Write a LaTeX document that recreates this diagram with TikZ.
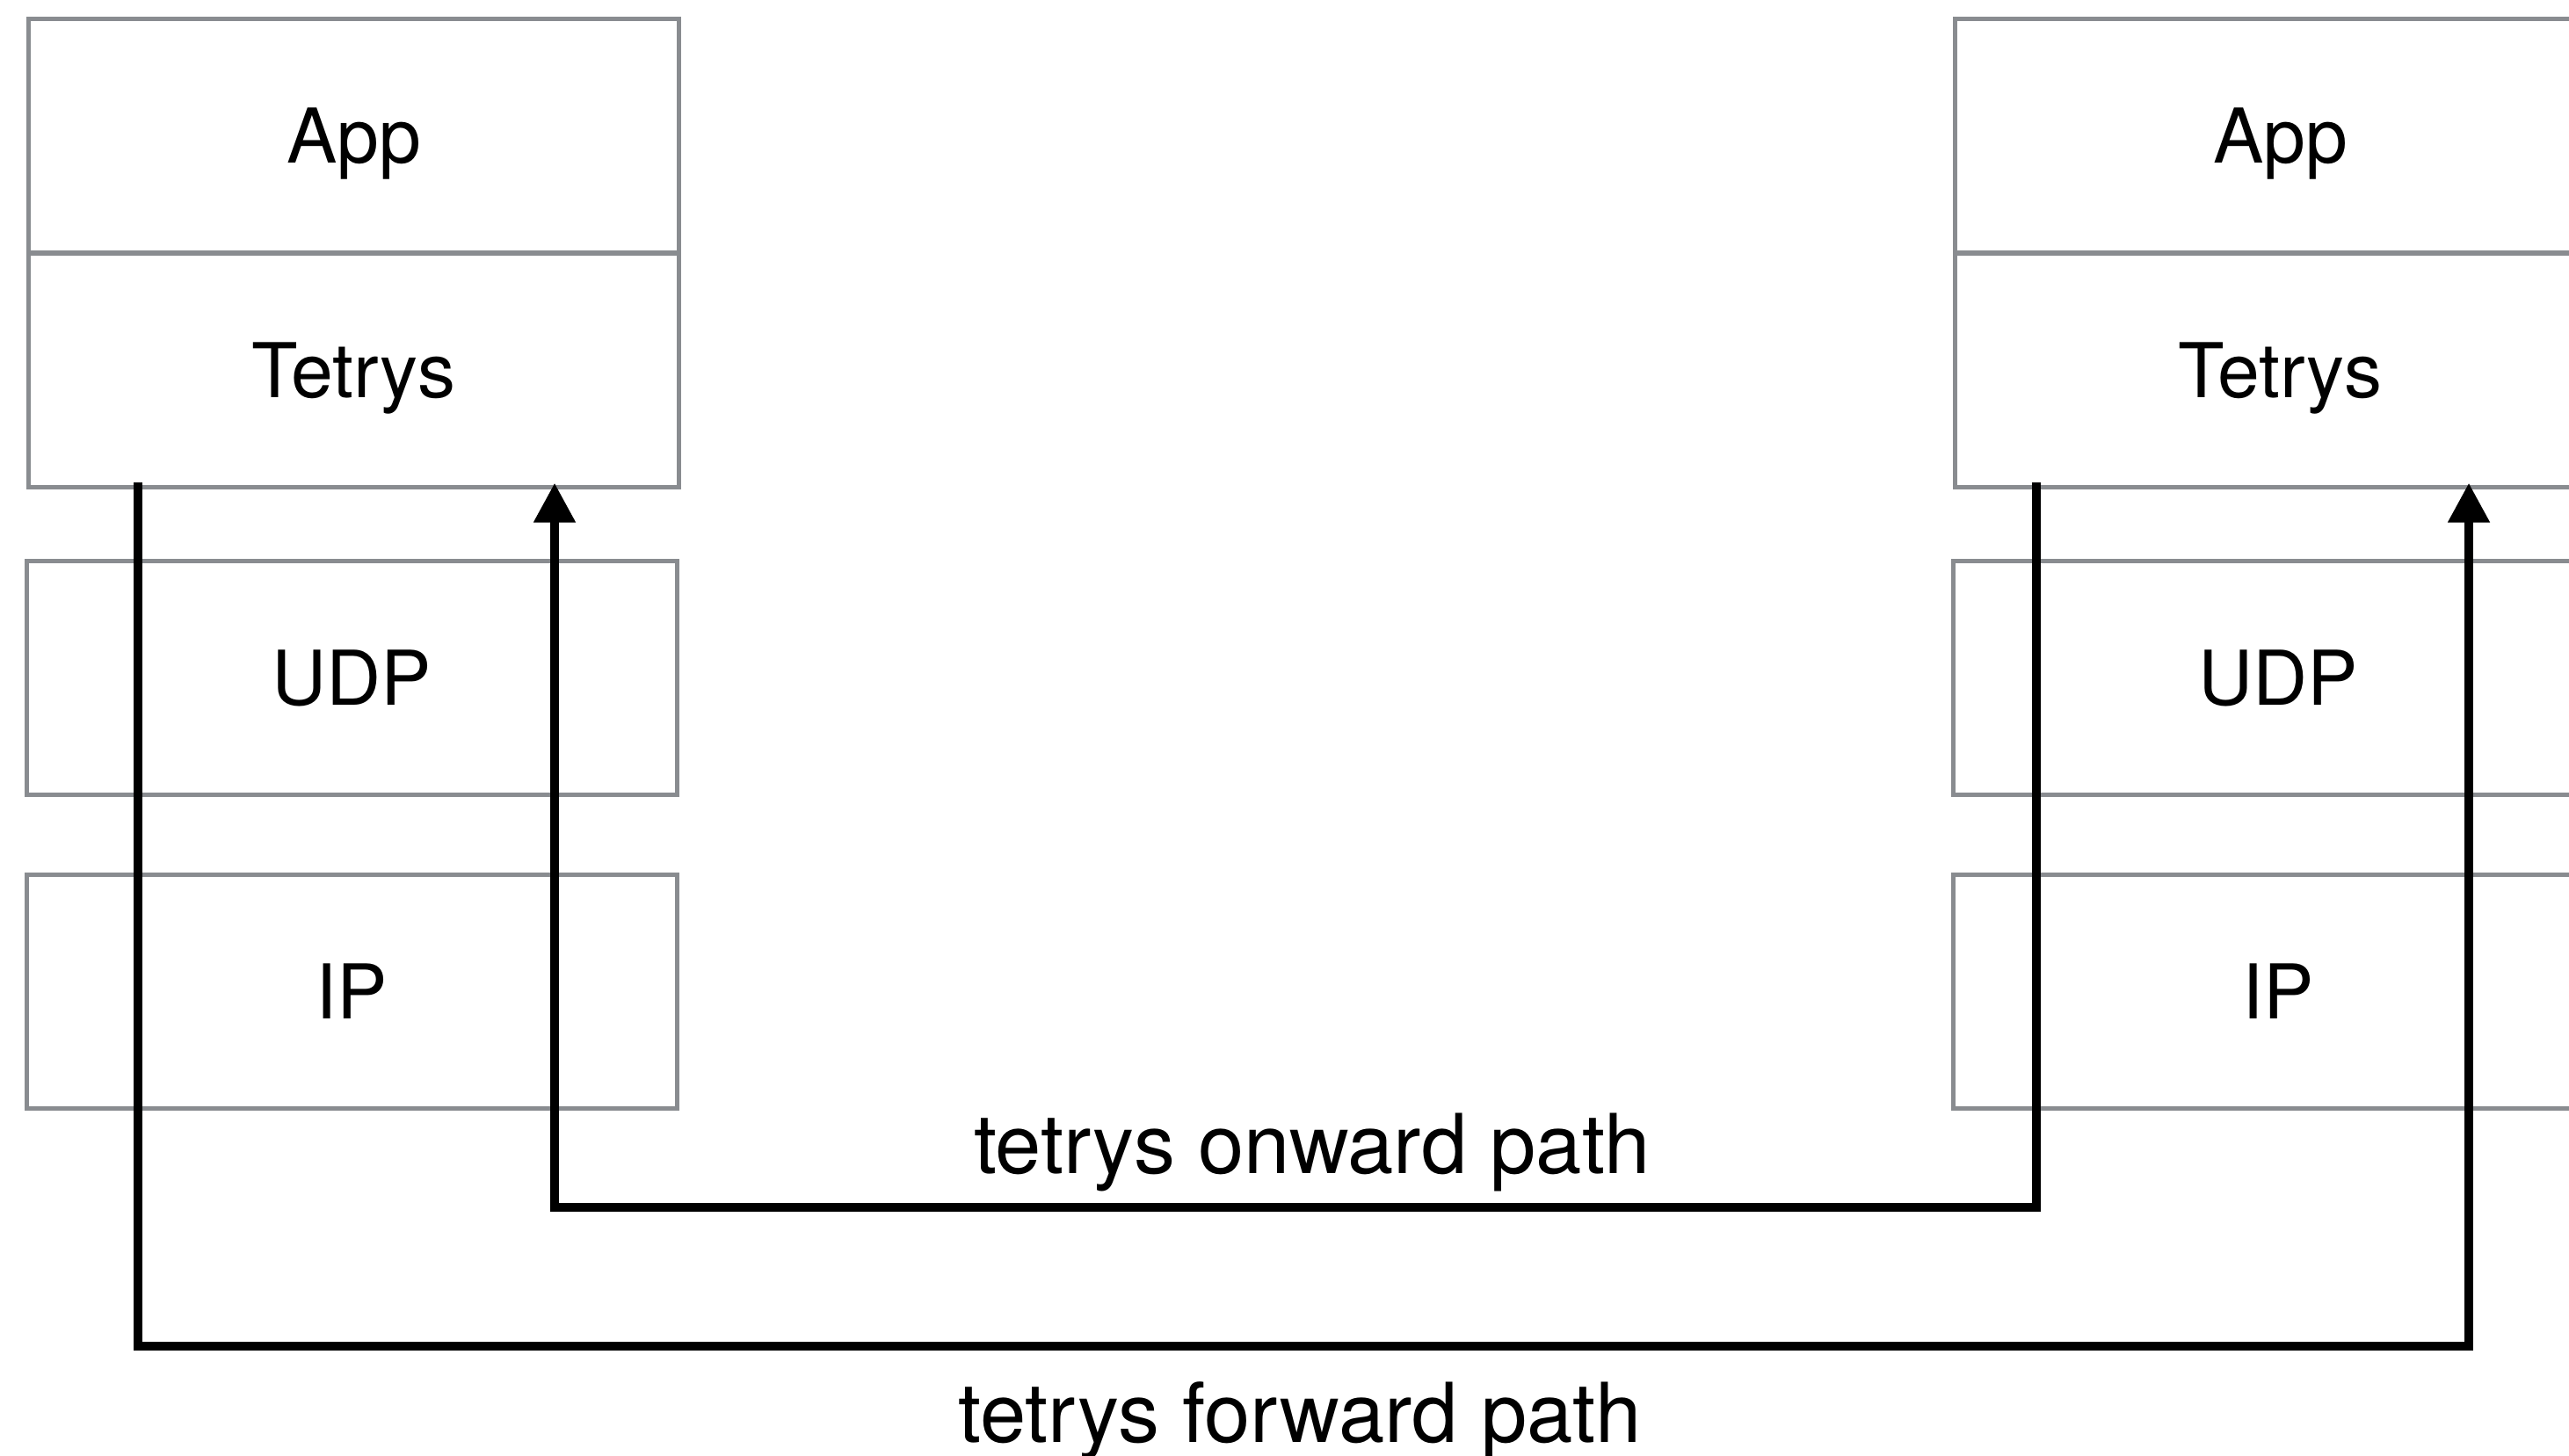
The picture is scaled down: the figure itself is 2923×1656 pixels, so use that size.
\documentclass[tikz,border=0pt]{standalone}
\usepackage{fontspec}
\setmainfont{TeX Gyre Heros}
\usetikzlibrary{arrows.meta}
\definecolor{boxgray}{HTML}{898C90}
\begin{document}
\begin{tikzpicture}[x=0.5pt,y=-0.5pt,
  layerfont/.style={font=\fontsize{43}{52}\selectfont},
  pathfont/.style={font=\fontsize{47}{56}\selectfont},
  layer/.style={draw=boxgray, line width=2.5pt, minimum width=370pt,
    minimum height=133pt, inner sep=0pt, anchor=north west,
    text height=31pt, text depth=0pt, layerfont},
  pathline/.style={line width=5.3pt, black, line join=miter},
  tip/.style={-{Triangle[length=22.5pt,width=22.5pt]}}]
\useasboundingbox (0,0) rectangle (2923,1656);

% left protocol stack
\node[layer] (lApp)    at (30,19)   {App};
\node[layer] (lTetrys) at (30,286)  {Tetrys};
\node[layer] (lUdp)    at (28,636)  {UDP};
\node[layer] (lIp)     at (28,993)  {IP};

% right protocol stack
\node[layer] (rApp)    at (2222,19)  {App};
\node[layer] (rTetrys) at (2222,286) {Tetrys};
\node[layer] (rUdp)    at (2220,636) {UDP};
\node[layer] (rIp)     at (2220,993) {IP};

% routing guides for the two paths
\coordinate (fwdL) at (157,0);
\coordinate (fwdR) at (2809,0);
\coordinate (fwdY) at (0,1532);
\coordinate (onL)  at (631,0);
\coordinate (onR)  at (2317,0);
\coordinate (onY)  at (0,1374);

% forward path: left Tetrys -> right Tetrys
\draw[pathline, tip, shorten <=-4pt, shorten >=-3.75pt]
  (lTetrys.south -| fwdL) -- (fwdL |- fwdY) -- (fwdR |- fwdY)
  -- (rTetrys.south -| fwdR);

% onward path: right Tetrys -> left Tetrys
\draw[pathline, tip, shorten <=-4pt, shorten >=-3.75pt]
  (rTetrys.south -| onR) -- (onR |- onY) -- (onL |- onY)
  -- (lTetrys.south -| onL);

\node[pathfont, anchor=base] (onLabel)  at (1493,1335) {tetrys onward path};
\node[pathfont, anchor=base] (fwdLabel) at (1479,1641) {tetrys forward path};
\end{tikzpicture}
\end{document}
